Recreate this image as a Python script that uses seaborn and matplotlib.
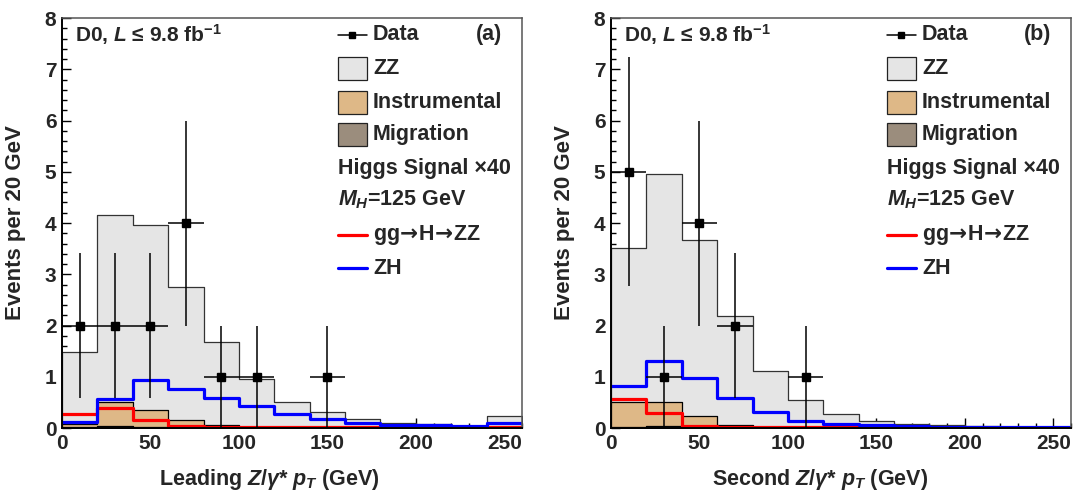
import numpy as np
import pandas as pd
import matplotlib
matplotlib.use("Agg")
import matplotlib.pyplot as plt
from matplotlib import font_manager
from matplotlib.patches import Rectangle
from matplotlib.lines import Line2D
from matplotlib.ticker import MultipleLocator
import seaborn as sns

bin_edges = np.arange(0, 261, 20)
bin_centers = bin_edges[:-1] + 10

# (a) leading Z/gamma* pT
data_a = [2, 2, 2, 4, 1, 1, 0, 1, 0, 0, 0, 0, 0]
zz_a = [1.41, 3.66, 3.61, 2.60, 1.63, 0.95, 0.50, 0.31, 0.17, 0.10, 0.07, 0.04, 0.23]
instr_a = [0.07, 0.47, 0.34, 0.14, 0.04, 0.01, 0.01, 0, 0, 0, 0, 0, 0]
mig_a = [0.01, 0.03, 0.02, 0.01, 0.01, 0, 0, 0, 0, 0, 0, 0, 0]
ggh_a = [0.28, 0.40, 0.16, 0.03, 0.01, 0.01, 0.01, 0.01, 0.01, 0.01, 0.01, 0.01, 0.01]
zh_a = [0.11, 0.57, 0.94, 0.77, 0.59, 0.42, 0.27, 0.18, 0.09, 0.06, 0.05, 0.03, 0.09]

# (b) second Z/gamma* pT
data_b = [5, 1, 4, 2, 0, 1, 0, 0, 0, 0, 0, 0, 0]
zz_b = [3.02, 4.46, 3.43, 2.13, 1.11, 0.54, 0.27, 0.13, 0.07, 0.05, 0.03, 0.02, 0.01]
instr_b = [0.49, 0.47, 0.22, 0.04, 0.01, 0, 0, 0, 0, 0, 0, 0, 0]
mig_b = [0.01, 0.03, 0.01, 0.01, 0, 0, 0, 0, 0, 0, 0, 0, 0]
ggh_b = [0.57, 0.29, 0.03, 0.01, 0.01, 0.01, 0.01, 0.005, 0.005, 0.005, 0.005, 0.005, 0.005]
zh_b = [0.81, 1.30, 0.97, 0.58, 0.31, 0.13, 0.07, 0.05, 0.03, 0.02, 0.01, 0.01, 0.01]

ZZ_COLOR = "#e5e5e5"
INSTR_COLOR = "#deb887"
MIG_COLOR = "#9b8d7d"

sns.set_style("ticks")

# pick a Helvetica-like family that really has a bold face
font_name = "DejaVu Sans"
for cand in ["Liberation Sans", "Arimo", "Roboto", "Open Sans", "Noto Sans", "Lato"]:
    faces = [f for f in font_manager.fontManager.ttflist if f.name == cand]
    if any((f.weight == "bold" or (isinstance(f.weight, int) and f.weight >= 700))
           and f.style == "normal" for f in faces):
        font_name = cand
        break

plt.rcParams["font.family"] = [font_name, "DejaVu Sans"]
plt.rcParams["font.weight"] = "bold"
plt.rcParams["axes.labelweight"] = "bold"
plt.rcParams["mathtext.fontset"] = "custom"
plt.rcParams["mathtext.rm"] = f"{font_name}:bold"
plt.rcParams["mathtext.it"] = f"{font_name}:bold:italic"
plt.rcParams["mathtext.bf"] = f"{font_name}:bold"
plt.rcParams["mathtext.sf"] = "DejaVu Sans"  # used for the arrows
BOLD = dict(family=[font_name, "DejaVu Sans"], weight="bold")


def hist(ax, values, **kw):
    df = pd.DataFrame({"pt": bin_centers, "w": np.asarray(values, dtype=float)})
    sns.histplot(data=df, x="pt", weights="w", binwidth=20, binrange=(0, 260),
                 element="step", stat="count", ax=ax, **kw)


def draw_panel(ax, data, zz, instr, mig, ggh, zh, xlabel, tag):
    zz, instr, mig = np.array(zz), np.array(instr), np.array(mig)
    # stacked backgrounds: migration at bottom, then instrumental, then ZZ
    hist(ax, zz + instr + mig, fill=True, alpha=1, facecolor=ZZ_COLOR,
         edgecolor="#333333", linewidth=0.9)
    hist(ax, instr + mig, fill=True, alpha=1, facecolor=INSTR_COLOR,
         edgecolor="black", linewidth=0.9)
    hist(ax, mig, fill=True, alpha=1, facecolor=MIG_COLOR,
         edgecolor="black", linewidth=0.9)
    # Higgs signal x40
    hist(ax, ggh, fill=False, color="#ff0000", linewidth=2.3)
    hist(ax, zh, fill=False, color="#0000ff", linewidth=2.3)

    # data
    n = np.array(data, dtype=float)
    m = n > 0
    ax.errorbar(bin_centers[m], n[m], xerr=10, yerr=np.sqrt(n[m]), fmt="s",
                color="black", markersize=5.5, elinewidth=1.1, capsize=0,
                zorder=10)

    ax.set_xlim(0, 260)
    ax.set_ylim(0, 8)
    ax.xaxis.set_major_locator(MultipleLocator(50))
    ax.xaxis.set_minor_locator(MultipleLocator(10))
    ax.yaxis.set_major_locator(MultipleLocator(1))
    ax.yaxis.set_minor_locator(MultipleLocator(0.2))
    ax.tick_params(which="both", direction="in", top=False, right=False,
                   labelsize=15, width=1.0, color="black")
    ax.tick_params(axis="x", which="major", length=7.5, pad=4)
    ax.tick_params(axis="y", which="major", length=6.5, pad=4)
    ax.tick_params(which="minor", length=3.5)
    for lab in ax.get_xticklabels() + ax.get_yticklabels():
        lab.set_fontweight("bold")
    for s in ["left", "bottom"]:
        ax.spines[s].set_linewidth(1.4)
        ax.spines[s].set_color("black")
    for s in ["top", "right"]:
        ax.spines[s].set_visible(True)
        ax.spines[s].set_linewidth(1.1)
        ax.spines[s].set_color("#555555")

    ax.set_xlabel(xlabel, fontsize=15.5, x=0.69, ha="right", **BOLD)
    ax.xaxis.set_label_coords(0.69, -0.095)
    ax.set_ylabel("Events per 20 GeV", fontsize=16, **BOLD)
    ax.yaxis.set_label_coords(-0.078, 0.5)

    # header text
    ax.text(0.028, 0.959, r"D0, $L$ ≤ 9.8 fb$^{-1}$", transform=ax.transAxes,
            fontsize=15, va="center", ha="left", **BOLD)
    ax.text(0.928, 0.959, tag, transform=ax.transAxes, fontsize=15.5,
            va="center", ha="center", **BOLD)

    # legend (drawn by hand, ROOT style)
    hx0, hx1, tx = 0.600, 0.663, 0.676
    rows = [0.959, 0.878, 0.795, 0.715, 0.634, 0.556, 0.471, 0.390]
    bh = 0.056
    lfs = 15.5
    tr = ax.transAxes
    ax.add_line(Line2D([hx0, hx1], [rows[0]] * 2, transform=tr, color="black", lw=1.1))
    ax.add_line(Line2D([(hx0 + hx1) / 2], [rows[0]], transform=tr, color="black",
                       marker="s", markersize=4.5, lw=0))
    ax.text(tx, rows[0], "Data", transform=tr, fontsize=lfs, va="center", **BOLD)
    for r, col, lab in [(rows[1], ZZ_COLOR, "ZZ"), (rows[2], INSTR_COLOR, "Instrumental"),
                        (rows[3], MIG_COLOR, "Migration")]:
        ax.add_patch(Rectangle((hx0, r - bh / 2), hx1 - hx0, bh, transform=tr,
                               facecolor=col, edgecolor="#222222", lw=0.9))
        ax.text(tx, r, lab, transform=tr, fontsize=lfs, va="center", **BOLD)
    ax.text(hx0, rows[4], "Higgs Signal ×40", transform=tr, fontsize=lfs,
            va="center", **BOLD)
    ax.text(hx0, rows[5], r"$M_H$=125 GeV", transform=tr, fontsize=lfs,
            va="center", **BOLD)
    ax.add_line(Line2D([hx0, hx1], [rows[6]] * 2, transform=tr, color="#ff0000", lw=2.3))
    ax.text(tx, rows[6], r"gg$\!\mathsf{\rightarrow}\!$H$\!\mathsf{\rightarrow}\!$ZZ",
            transform=tr, fontsize=lfs, va="center", **BOLD)
    ax.add_line(Line2D([hx0, hx1], [rows[7]] * 2, transform=tr, color="#0000ff", lw=2.3))
    ax.text(tx, rows[7], "ZH", transform=tr, fontsize=lfs, va="center", **BOLD)


fig = plt.figure(figsize=(10.78, 4.94), dpi=100)
ax1 = fig.add_axes([62 / 1078, 1 - 428 / 494, 460 / 1078, 410 / 494])
ax2 = fig.add_axes([611 / 1078, 1 - 428 / 494, 460 / 1078, 410 / 494])

draw_panel(ax1, data_a, zz_a, instr_a, mig_a, ggh_a, zh_a,
           r"Leading $Z/\gamma$* $p_T$ (GeV)", "(a)")
draw_panel(ax2, data_b, zz_b, instr_b, mig_b, ggh_b, zh_b,
           r"Second $Z/\gamma$* $p_T$ (GeV)", "(b)")

fig.savefig("out.png", dpi=100)
plt.close(fig)
